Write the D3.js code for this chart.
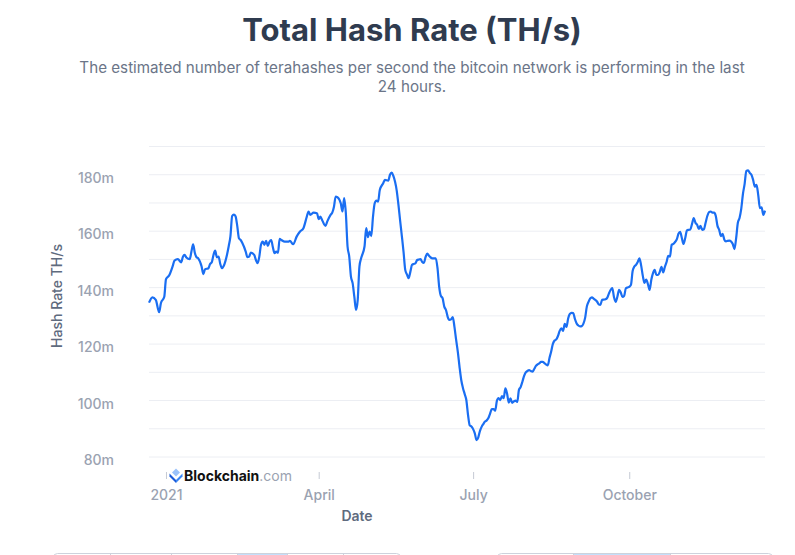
<!DOCTYPE html>
<html>
<head>
<meta charset="utf-8">
<script src="https://cdn.jsdelivr.net/npm/d3@7"></script>
<style>
  body { margin: 0; background: #fff; }
  svg { display: block; font-family: Inter, "Noto Sans", sans-serif; }
</style>
</head>
<body>
<svg id="chart"></svg>
<script>
// data: days counted from 1 Jan 2021, hash rate in millions of TH/s

var startDate = new Date(2021, 0, 1);

var days = [
  -10, -8, -6, -4, -3, -1, 0, 2, 4, 5, 7, 9, 10, 11, 12, 14, 15, 16, 17, 18, 19,
  21, 22, 23, 25, 26, 27, 28, 29, 30, 31, 32, 33, 34, 36, 37, 38, 39, 40, 41, 42,
  43, 44, 45, 47, 48, 49, 50, 52, 53, 54, 55, 56, 57, 58, 59, 60, 61, 62, 63, 64,
  65, 66, 67, 68, 70, 72, 73, 75, 77, 79, 81, 83, 84, 85, 87, 89, 90, 91, 92, 94,
  95, 97, 98, 99, 100, 101, 103, 104, 105, 106, 107, 108, 109, 110, 111, 112, 113,
  114, 115, 117, 118, 119, 120, 121, 122, 123, 124, 125, 126, 128, 129, 131, 132,
  133, 134, 135, 136, 137, 138, 139, 140, 141, 142, 143, 144, 145, 146, 147, 148,
  149, 150, 151, 152, 153, 154, 155, 156, 157, 158, 159, 160, 161, 162, 163, 164,
  165, 166, 167, 168, 169, 170, 171, 172, 173, 174, 175, 176, 177, 178, 179, 180,
  181, 182, 183, 184, 185, 186, 187, 188, 189, 190, 191, 192, 193, 194, 195, 196,
  197, 198, 199, 200, 201, 202, 203, 204, 205, 206, 207, 208, 209, 210, 211, 212,
  213, 214, 215, 216, 217, 218, 219, 220, 221, 222, 223, 224, 225, 226, 227, 228,
  229, 230, 231, 232, 233, 234, 235, 236, 237, 238, 239, 240, 241, 242, 243, 244,
  245, 246, 247, 248, 249, 250, 251, 252, 253, 254, 255, 256, 257, 258, 259, 260,
  261, 262, 263, 264, 265, 266, 267, 268, 269, 270, 271, 272, 273, 274, 275, 276,
  277, 278, 279, 280, 281, 282, 283, 284, 285, 286, 287, 288, 289, 290, 291, 292,
  293, 294, 295, 296, 297, 298, 299, 300, 301, 302, 303, 304, 305, 306, 307, 308,
  309, 310, 311, 312, 313, 314, 315, 316, 317, 318, 319, 320, 321, 322, 323, 324,
  325, 326, 327, 328, 329, 330, 331, 332, 333, 334, 335, 336, 337, 338, 339, 340,
  341, 342, 343, 344, 345, 346, 347, 348, 349, 350, 351, 352, 353
];

var hashRate = [
  134.5, 136.4, 135.5, 131.1, 134.3, 136.6, 142.8, 144.3, 147.5, 149.4, 149.9, 148.8, 150.8, 151.4, 150.5, 149.9, 152.6, 155.2, 152.2, 150.6, 150.2,
  147.3, 144.6, 146.3, 146.7, 148.2, 148.8, 151.4, 152.9, 150.6, 150.8, 148.2, 146.7, 147.5, 151.6, 154.6, 158.1, 165.2, 165.7, 165.1, 161.7,
  157.3, 156.7, 155.6, 152.6, 150.6, 150.8, 152.2, 151.4, 149.6, 148.5, 150.8, 155.0, 156.1, 155.0, 156.4, 154.6, 156.1, 156.7, 154.1, 152.0,
  152.6, 152.2, 157.1, 156.7, 156.1, 156.1, 156.4, 155.2, 157.9, 159.7, 160.9, 165.0, 166.8, 165.6, 166.4, 166.2, 164.1, 165.0, 163.8, 161.7,
  163.2, 165.6, 166.4, 168.5, 172.1, 171.9, 169.7, 166.8, 171.5, 166.2, 154.4, 150.8, 143.7, 141.4, 136.6, 131.9, 135.5,
  147.3, 150.2, 154.4, 160.9, 157.7, 159.7, 158.1, 165.0, 169.7, 170.7, 170.3, 174.4, 176.8, 178.0, 177.7, 179.8,
  180.6, 179.4, 177.3, 174.1, 169.1, 163.5, 158.1, 152.5, 146.1, 144.5, 143.2, 145.4, 147.9, 148.2, 148.4, 149.6,
  149.8, 149.9, 148.9, 148.6, 150.7, 151.9, 151.1, 150.5, 150.2, 150.2, 150.2, 146.8, 140.1, 136.9, 136.1, 133.1,
  131.9, 129.5, 128.4, 128.6, 129.4, 125.9, 121.3, 117.0, 111.7, 107.1, 104.3, 102.2, 100.0, 94.7, 91.0, 90.6,
  89.7, 88.2, 85.8, 86.7, 89.0, 90.5, 91.5, 92.4, 92.8, 93.6, 95.2, 96.8, 96.8, 96.2, 99.7, 100.7,
  100.0, 101.4, 100.7, 104.1, 102.3, 99.1, 100.6, 99.0, 99.5, 99.8, 99.3, 103.6, 104.6, 106.4, 108.5, 109.8,
  110.3, 110.6, 110.3, 110.1, 111.0, 112.1, 112.6, 113.0, 113.5, 113.5, 113.1, 112.6, 112.3, 114.9, 117.2, 119.9,
  121.1, 121.5, 122.7, 124.5, 125.4, 124.5, 127.0, 125.9, 128.9, 130.5, 130.9, 130.8, 128.7, 127.1, 126.4, 126.1,
  126.2, 127.1, 129.1, 133.1, 134.8, 136.0, 136.4, 135.9, 135.5, 134.9, 133.9, 133.7, 135.5, 135.6, 135.7, 136.2,
  137.7, 139.0, 139.7, 136.5, 134.8, 136.6, 139.0, 138.1, 136.5, 136.9, 139.6, 139.9, 140.1, 140.8, 145.7, 147.3,
  147.9, 148.9, 150.2, 147.7, 144.0, 141.5, 142.7, 141.1, 139.0, 142.6, 145.0, 146.1, 144.3, 144.3, 145.4, 147.2,
  145.2, 147.2, 148.9, 151.1, 150.8, 155.0, 155.3, 156.0, 156.9, 158.9, 159.6, 157.4, 155.3, 157.4, 160.1, 160.3,
  160.4, 162.4, 164.5, 162.8, 162.1, 160.6, 161.7, 160.3, 160.5, 162.8, 165.2, 166.6, 166.8, 166.4, 166.4, 165.2,
  161.7, 160.3, 158.1, 158.9, 156.9, 156.2, 156.4, 156.5, 156.2, 155.3, 153.5, 157.4, 162.8, 164.5, 167.7, 173.0,
  176.6, 181.2, 181.4, 180.5, 179.8, 178.0, 175.6, 176.2, 172.7, 168.0, 168.3, 165.6, 167.1
];

var yLabelTicks = [80, 100, 120, 140, 160, 180];
var yGridTicks = [80, 90, 100, 110, 120, 130, 140, 150, 160, 170, 180, 190];
var xTickDates = ["2021-01-01", "2021-04-01", "2021-07-01", "2021-10-01"];
var xTickLabels = ["2021", "April", "July", "October"];

// settings

var svgWidth = 795;
var svgHeight = 555;
var plotLeft = 149;
var plotRight = 765;
var plotTop = 146;
var plotBottom = 456.5;
var lineColor = "#1a6ef2";

var points = days.map(function(d, i){
    return { date: d3.timeDay.offset(startDate, d), value: hashRate[i] };
});

var svg = d3.select("#chart")
            .attr("width", svgWidth)
            .attr("height", svgHeight);

var x = d3.scaleTime()
          .domain(d3.extent(points, function(d){ return d.date; }))
          .range([plotLeft, plotRight]);

var y = d3.scaleLinear()
          .domain([80, 190])
          .range([plotBottom, plotTop]);

// title + subtitle

svg.append("text")
    .attr("x", 412)
    .attr("y", 41)
    .attr("text-anchor", "middle")
    .style("font-size", "31px")
    .style("font-weight", 700)
    .style("fill", "#2f3b4f")
    .text("Total Hash Rate (TH/s)");

var subtitle = ["The estimated number of terahashes per second the bitcoin network is performing in the last", "24 hours."];

svg.selectAll(".subtitle")
    .data(subtitle)
    .enter()
    .append("text")
    .attr("class", "subtitle")
    .attr("x", 412)
    .attr("y", function(d, i){ return 73 + i * 19; })
    .attr("text-anchor", "middle")
    .style("font-size", "15.2px")
    .style("fill", "#6b7588")
    .text(function(d){ return d; });

// grid lines

var grid = svg.append("g")
    .attr("transform", "translate(" + plotLeft + ",0)")
    .call(d3.axisLeft(y)
            .tickValues(yGridTicks)
            .tickSize(-(plotRight - plotLeft))
            .tickFormat(""));

grid.select(".domain").remove();
grid.selectAll("line").attr("stroke", "#eceef3");

// y axis labels

var yAxis = svg.append("g")
    .attr("transform", "translate(114,0)")
    .call(d3.axisLeft(y)
            .tickValues(yLabelTicks)
            .tickSize(0)
            .tickPadding(0)
            .tickFormat(function(d){ return d + "m"; }));

yAxis.select(".domain").remove();
yAxis.selectAll("text")
    .attr("dy", "0.58em")
    .style("font-family", "Inter, sans-serif")
    .style("font-size", "14px")
    .style("font-weight", 500)
    .style("fill", "#9aa2b1");

svg.append("text")
    .attr("transform", "translate(62,296) rotate(-90)")
    .attr("text-anchor", "middle")
    .style("font-size", "14px")
    .style("font-weight", 500)
    .style("fill", "#5f6b7e")
    .text("Hash Rate TH/s");

// x axis

var parseDay = d3.timeParse("%Y-%m-%d");

var xAxis = svg.append("g")
    .attr("transform", "translate(0,472)")
    .call(d3.axisBottom(x)
            .tickValues(xTickDates.map(parseDay))
            .tickSize(7)
            .tickPadding(11)
            .tickFormat(function(d, i){ return xTickLabels[i]; }));

xAxis.select(".domain").remove();
xAxis.selectAll("line").attr("stroke", "#c5cad4");
xAxis.selectAll("text")
    .style("font-family", "Inter, sans-serif")
    .style("font-size", "14px")
    .style("font-weight", 500)
    .style("fill", "#9aa2b1");

svg.append("text")
    .attr("x", 357)
    .attr("y", 521)
    .attr("text-anchor", "middle")
    .style("font-size", "14px")
    .style("font-weight", 600)
    .style("fill", "#5f6b7e")
    .text("Date");

// watermark logo

var logo = svg.append("g");

logo.append("polygon")
    .attr("points", "176,468.5 180,472.5 176,476.5 172,472.5")
    .style("fill", "#9cc3fb");
logo.append("polygon")
    .attr("points", "169.5,473.5 176,480 176,483 169.5,476.5")
    .style("fill", "#1b5ad8");
logo.append("polygon")
    .attr("points", "182.5,473.5 176,480 176,483 182.5,476.5")
    .style("fill", "#3a86f5");

var logoText = logo.append("text")
    .attr("x", 184)
    .attr("y", 481)
    .style("font-size", "14px");
logoText.append("tspan")
    .style("font-weight", 700)
    .style("fill", "#111")
    .text("Blockchain");
logoText.append("tspan")
    .style("fill", "#9aa2b1")
    .text(".com");

// the line

var line = d3.line()
    .x(function(d){ return x(d.date); })
    .y(function(d){ return y(d.value); })
    .curve(d3.curveMonotoneX);

svg.append("path")
    .datum(points)
    .attr("d", line)
    .attr("fill", "none")
    .attr("stroke", lineColor)
    .attr("stroke-width", 2.2)
    .attr("stroke-linejoin", "round");

// cut-off button rows at the bottom

var buttonRows = [
    { x0: 53, x1: 400, seps: [110, 171, 237, 287, 343], hi: [237, 287] },
    { x0: 497, x1: 772, seps: [573, 670], hi: [573, 670] }
];

buttonRows.forEach(function(r){
    svg.append("rect")
        .attr("x", r.hi[0])
        .attr("y", 553)
        .attr("width", r.hi[1] - r.hi[0])
        .attr("height", 20)
        .style("fill", "#c4dffb");
    svg.append("rect")
        .attr("x", r.x0 + 0.5)
        .attr("y", 553.5)
        .attr("width", r.x1 - r.x0)
        .attr("height", 20)
        .attr("rx", 4)
        .style("fill", "none")
        .style("stroke", "#cdd2dc");
    svg.selectAll(null)
        .data(r.seps)
        .enter()
        .append("line")
        .attr("x1", function(d){ return d + 0.5; })
        .attr("x2", function(d){ return d + 0.5; })
        .attr("y1", 553)
        .attr("y2", 573)
        .style("stroke", "#cdd2dc");
});
</script>
</body>
</html>
